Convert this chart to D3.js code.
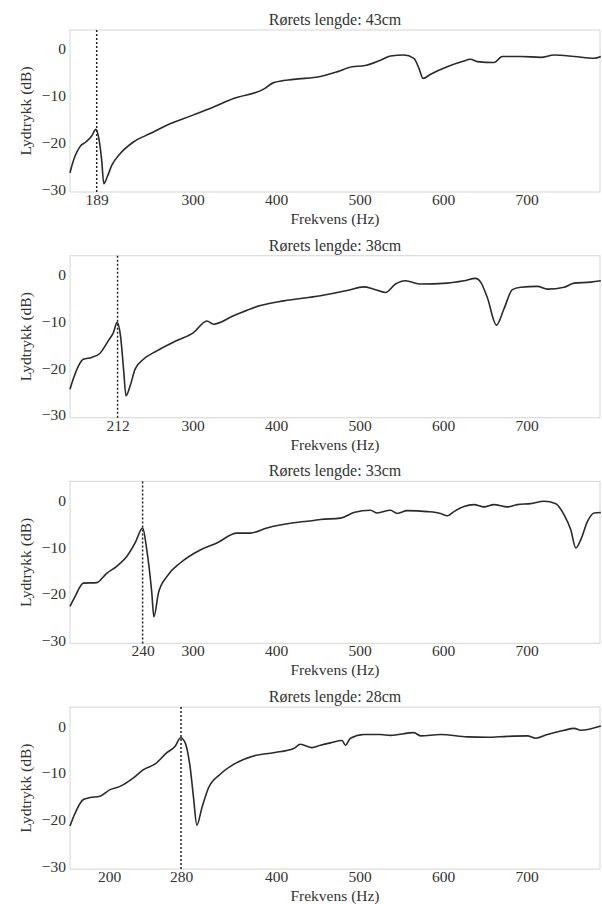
<!DOCTYPE html>
<html>
<head>
<meta charset="utf-8">
<script src="https://cdn.jsdelivr.net/npm/d3@7"></script>
<style>
body{margin:0;background:#fff;}
text{font-family:"Liberation Serif","Times New Roman",serif;fill:#333;}
</style>
</head>
<body>
<svg width="602" height="904"></svg>
<script>
// pipe lengths (one panel each)
const lengths = ["43cm", "38cm", "33cm", "28cm"];

// measured resonance (where the dashed line sits) and its label
const resonanceHz = [185, 210, 240, 286];
const resonanceLabel = ["189", "212", "240", "280"];

// x tick values for each panel (resonance tick added separately)
const xTicksPerPanel = [
  [300, 400, 500, 600, 700],
  [300, 400, 500, 600, 700],
  [300, 400, 500, 600, 700],
  [200, 400, 500, 600, 700]
];
const yTicks = [0, -10, -20, -30];

// frequency (Hz) and level (dB)
const freq43 = [153,156,165,172,179,184,188,191,193.5,197.5,203,213,229,249,269,301,325,349,385,397,421,453,473,491,505,525,537,553,565,571,576,585,605,623,633,641,661,671,693,717,733,757,781,789];
const db43   = [-26.5,-24.5,-20.9,-19.9,-18.6,-17.2,-19.6,-23.9,-28.8,-27.4,-24.9,-22.4,-19.9,-18.1,-16.3,-14.1,-12.4,-10.6,-8.6,-7.2,-6.5,-5.9,-4.9,-3.8,-3.6,-2.4,-1.5,-1.3,-2.0,-4.1,-6.3,-5.4,-3.8,-2.7,-2.2,-2.7,-2.9,-1.6,-1.6,-1.8,-1.3,-1.6,-2.0,-1.6];

const freq38 = [153,157.5,169,179,189,199,205,209.5,213.5,217.5,220,225,231,241,257,281,301,317,325,349,381,409,453,485,505,517,531,543,555,573,605,625,639,645,653,664,673,683,693,713,725,745,757,777,789];
const db38   = [-24.5,-22.0,-18.1,-17.7,-16.8,-14.1,-12.4,-10.2,-13.1,-20.9,-25.9,-23.8,-20.2,-18.1,-16.3,-14.1,-12.4,-9.9,-10.6,-8.8,-6.6,-5.6,-4.5,-3.4,-2.6,-3.1,-3.8,-2.0,-1.3,-2.0,-1.8,-1.3,-0.8,-1.6,-4.9,-10.8,-7.3,-3.2,-2.7,-2.5,-3.1,-2.7,-1.8,-1.6,-1.3];

const freq33 = [153,159,169,185,197,209,221,231,240,245,251,253.5,259,269,285,309,329,353,369,389,421,445,453,477,493,513,521,537,545,557,581,597,605,613,625,637,649,661,677,689,705,721,735,745,753,759,765,773,781,789];
const db33   = [-22.7,-20.6,-17.7,-17.6,-15.6,-14.1,-12.0,-9.1,-5.9,-10.6,-19.8,-24.9,-19.8,-16.3,-13.4,-10.6,-9.1,-7.0,-7.0,-5.9,-4.8,-4.3,-4.1,-3.8,-2.6,-2.1,-2.7,-2.1,-2.8,-2.2,-2.4,-2.8,-3.3,-2.4,-1.3,-0.9,-1.4,-0.9,-1.4,-0.9,-0.7,-0.2,-0.7,-3.1,-6.3,-10.2,-8.4,-4.5,-2.7,-2.6];

const freq28 = [153,157.5,169,177,189,201,213,229,241,255,269,279,285.6,291,297,301,305,311,319,333,349,373,397,421,429,443,453,465,479,483,489,505,525,537,565,573,597,629,653,677,701,711,725,745,757,765,789];
const db28   = [-21.4,-19.3,-15.7,-15.3,-15.0,-13.6,-12.9,-11.1,-9.3,-8.1,-5.7,-4.3,-2.5,-3.6,-8.9,-15.3,-21.2,-17.5,-13.2,-10.3,-8.2,-6.4,-5.7,-4.8,-3.9,-4.6,-4.1,-3.6,-3.1,-4.1,-2.6,-1.8,-1.8,-2.0,-1.4,-2.1,-1.8,-2.3,-2.4,-2.2,-2.1,-2.6,-1.8,-0.9,-0.5,-0.9,0.0];

const freqs = [freq43, freq38, freq33, freq28];
const dbs = [db43, db38, db33, db28];

const svg = d3.select("svg");
const left = 70, right = 600, panelH = 162, firstTop = 30, step = 225.7;
const fs = 15.5;

const x = d3.scaleLinear().domain([153, 788]).range([left, right]);

lengths.forEach((len, i) => {
  const top = firstTop + i * step;
  const y = d3.scaleLinear().domain([-30.6, 4.06]).range([top + panelH, top]);
  const g = svg.append("g");

  // frame
  g.append("rect")
    .attr("x", left).attr("y", top)
    .attr("width", right - left).attr("height", panelH)
    .attr("fill", "none").attr("stroke", "#dcdcdc").attr("stroke-width", 1.2);

  // x axis (labels only)
  const ticks = xTicksPerPanel[i].concat([resonanceHz[i]]);
  const xAxis = d3.axisBottom(x).tickValues(ticks).tickSize(0).tickPadding(2)
    .tickFormat(d => d === resonanceHz[i] ? resonanceLabel[i] : d);
  g.append("g").attr("transform", "translate(0," + (top + panelH) + ")").call(xAxis)
    .call(a => a.select(".domain").remove())
    .selectAll("text").attr("font-size", fs);

  // y axis
  const yAxis = d3.axisLeft(y).tickValues(yTicks).tickSize(0).tickPadding(4)
    .tickFormat(d => d < 0 ? "\u2212" + Math.abs(d) : d);
  g.append("g").attr("transform", "translate(" + left + ",0)").call(yAxis)
    .call(a => a.select(".domain").remove())
    .selectAll("text").attr("font-size", fs);

  // curve
  const pts = freqs[i].map((f, k) => [f, dbs[i][k]]);
  g.append("path").datum(pts)
    .attr("fill", "none").attr("stroke", "#2a2a2a").attr("stroke-width", 1.6)
    .attr("stroke-linejoin", "round")
    .attr("d", d3.line().curve(d3.curveMonotoneX).x(d => x(d[0])).y(d => y(d[1])));

  // resonance marker
  g.append("line")
    .attr("x1", x(resonanceHz[i])).attr("x2", x(resonanceHz[i]))
    .attr("y1", top).attr("y2", top + panelH)
    .attr("stroke", "#222").attr("stroke-width", 1.5).attr("stroke-dasharray", "2,2");

  // texts
  g.append("text").attr("x", (left + right) / 2).attr("y", top - 5)
    .attr("text-anchor", "middle").attr("font-size", fs + 0.5)
    .text("Rørets lengde: " + len);
  g.append("text").attr("x", (left + right) / 2).attr("y", top + panelH + 32)
    .attr("text-anchor", "middle").attr("font-size", fs)
    .text("Frekvens (Hz)");
  g.append("text")
    .attr("transform", "translate(31," + (top + panelH / 2) + ") rotate(-90)")
    .attr("text-anchor", "middle").attr("font-size", fs)
    .text("Lydtrykk (dB)");
});
</script>
</body>
</html>
